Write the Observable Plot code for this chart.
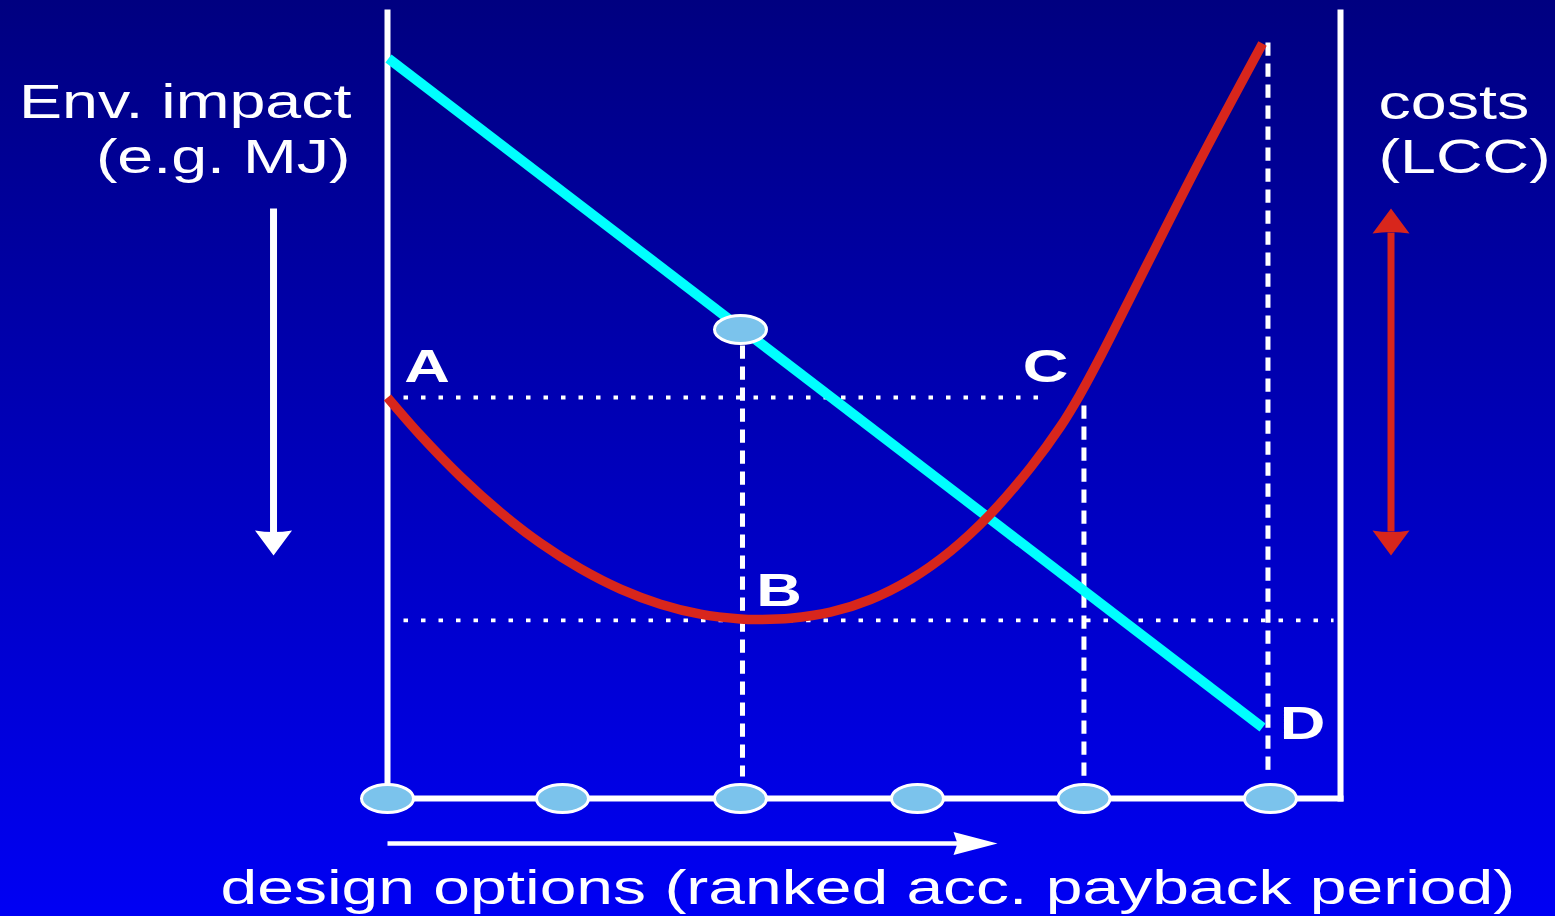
<!DOCTYPE html>
<html>
<head>
<meta charset="utf-8">
<script src="https://cdn.jsdelivr.net/npm/d3@7"></script>
<script src="https://cdn.jsdelivr.net/npm/@observablehq/plot@0.6"></script>
<style>
  html, body { margin: 0; padding: 0; background: #0000c0; overflow: hidden; }
  #chart svg { display: block; }
</style>
</head>
<body>
<div id="chart"></div>
<script>
// ---------------- data (x: design-option ranking 0–100, y: value 0–100) ----------------
// design options on the horizontal axis
const optionX = [0, 18.36, 37.04, 55.61, 73.08, 92.65];
const optionY = [0, 0, 0, 0, 0, 0];
// highlighted option on the environmental impact line
const markedX = [37.04];
const markedY = [59.67];

// environmental impact (straight line)
const envX = [0.10, 91.82];
const envY = [94.15, 9.03];

// life cycle costs (curve)
const lccX = [0, 3.46, 7.66, 11.86, 16.05, 20.25, 24.45, 28.65, 32.84, 37.04, 38.82, 42.29, 46.48, 50.68, 54.88, 59.08, 63.27, 67.47, 70.62, 72.61, 74.82, 79.01, 85.31, 91.82];
const lccY = [51.02, 46.21, 40.97, 36.40, 32.49, 29.24, 26.64, 24.72, 23.45, 22.84, 22.77, 22.93, 23.70, 25.32, 27.88, 31.48, 36.20, 42.10, 47.33, 51.27, 56.23, 66.28, 81.30, 96.06];

// dotted horizontal guides (level A/C and level B)
const dottedY = [51.02, 22.65];
const dottedX1 = [1.68, 1.68];
const dottedX2 = [69.57, 99.27];

// dashed vertical guides
const dashedX = [37.25, 73.08, 92.39];
const dashedY1 = [57.63, 50.0, 96.18];
const dashedY2 = [2.80, 2.80, 2.80];

// frame (left axis, right axis, bottom axis)
const frameX1 = [0, 100, 0];
const frameY1 = [100, 100, 0];
const frameX2 = [0, 100, 100];
const frameY2 = [0, 0, 0];

// point labels
const pointLabels = ["A", "B", "C", "D"];
const pointLabelX = [4.14, 41.08, 69.05, 96.01];
const pointLabelY = [52.93, 24.55, 52.93, 7.63];

// axis titles
const leftTitles = ["Env. impact", "(e.g. MJ)"];
const leftTitleX = [-3.78, -3.88];
const leftTitleY = [86.64, 79.52];
const rightTitles = ["costs", "(LCC)"];
const rightTitleX = [103.99, 103.99];
const rightTitleY = [86.51, 79.64];
const bottomTitle = ["design options (ranked acc. payback period)"];
const bottomTitleX = [-17.52];
const bottomTitleY = [-13.36];

// arrows: white down (impact), red double (costs), white right (options)
const impactArrowX = [-11.96, -11.96];
const impactArrowY = [75.06, 33.84];
const impactHeadX = [-11.96];
const impactHeadY = [30.92];
const costArrowX = [105.30, 105.30];
const costArrowY = [72.01, 33.97];
const costHeadX = [105.30, 105.30];
const costHeadY = [75.06, 30.92];
const optionArrowX = [0, 59.92];
const optionArrowY = [-5.73, -5.73];
const optionHeadX = [64.01];
const optionHeadY = [-5.73];

// ---------------- tables built from the arrays ----------------
const zip2 = (xs, ys) => xs.map((x, i) => ({x, y: ys[i]}));
const options = zip2(optionX, optionY);
const marked = zip2(markedX, markedY);
const env = zip2(envX, envY);
const lcc = zip2(lccX, lccY);
const dotted = dottedY.map((y, i) => ({x1: dottedX1[i], x2: dottedX2[i], y}));
const dashed = dashedX.map((x, i) => ({x, y1: dashedY1[i], y2: dashedY2[i]}));
const frame = frameX1.map((x1, i) => ({x1, y1: frameY1[i], x2: frameX2[i], y2: frameY2[i]}));
const labels = pointLabels.map((t, i) => ({t, x: pointLabelX[i], y: pointLabelY[i]}));
const leftT = leftTitles.map((t, i) => ({t, x: leftTitleX[i], y: leftTitleY[i]}));
const rightT = rightTitles.map((t, i) => ({t, x: rightTitleX[i], y: rightTitleY[i]}));
const bottomT = bottomTitle.map((t, i) => ({t, x: bottomTitleX[i], y: bottomTitleY[i]}));
const RED = "#d8261c";
const shafts = [
  {x1: impactArrowX[0], y1: impactArrowY[0], x2: impactArrowX[1], y2: impactArrowY[1], c: "white", w: 7},
  {x1: costArrowX[0], y1: costArrowY[0], x2: costArrowX[1], y2: costArrowY[1], c: RED, w: 7},
  {x1: optionArrowX[0], y1: optionArrowY[0], x2: optionArrowX[1], y2: optionArrowY[1], c: "white", w: 4.5}
];
const heads = [
  {x: impactHeadX[0], y: impactHeadY[0], r: 180, c: "white"},
  {x: costHeadX[0], y: costHeadY[0], r: 0, c: RED},
  {x: costHeadX[1], y: costHeadY[1], r: 180, c: RED}
];
const darts = [{x: optionHeadX[0], y: optionHeadY[0], r: 90}];

// ---------------- custom symbols ----------------
const K = 0.5523;
const ellipseSymbol = {
  draw(ctx) {
    const rx = 26, ry = 14;
    ctx.moveTo(rx, 0);
    ctx.bezierCurveTo(rx, ry * K, rx * K, ry, 0, ry);
    ctx.bezierCurveTo(-rx * K, ry, -rx, ry * K, -rx, 0);
    ctx.bezierCurveTo(-rx, -ry * K, -rx * K, -ry, 0, -ry);
    ctx.bezierCurveTo(rx * K, -ry, rx, -ry * K, rx, 0);
    ctx.closePath();
  }
};
const headSymbol = {
  draw(ctx) {
    ctx.moveTo(0, 0);
    ctx.lineTo(18.5, 25);
    ctx.quadraticCurveTo(0, 22, -18.5, 25);
    ctx.closePath();
  }
};
const dartSymbol = {
  draw(ctx) {
    ctx.moveTo(0, 0);
    ctx.lineTo(11.5, 44);
    ctx.lineTo(0, 40);
    ctx.lineTo(-11.5, 44);
    ctx.closePath();
  }
};

const FONT = "'Liberation Sans', Arial, Helvetica, sans-serif";

const chart = Plot.plot({
  width: 1555,
  height: 916,
  marginLeft: 387,
  marginRight: 215,
  marginTop: 12,
  marginBottom: 118,
  x: {domain: [0, 100], axis: null},
  y: {domain: [0, 100], axis: null},
  marks: [
    Plot.link(dotted, {x1: "x1", x2: "x2", y1: "y", y2: "y", stroke: "white", strokeWidth: 3.8, strokeDasharray: "4.5,13"}),
    Plot.link(dashed, {x1: "x", x2: "x", y1: "y1", y2: "y2", stroke: "white", strokeWidth: 5, strokeDasharray: "13.3,7.7"}),
    Plot.link(frame, {x1: "x1", y1: "y1", x2: "x2", y2: "y2", stroke: "white", strokeWidth: 6, strokeLinecap: "square"}),
    Plot.line(env, {x: "x", y: "y", stroke: "#00ffff", strokeWidth: 10, strokeLinecap: "butt"}),
    Plot.line(lcc, {x: "x", y: "y", stroke: RED, strokeWidth: 9.5, curve: "catmull-rom", strokeLinecap: "butt"}),
    Plot.dot(options, {x: "x", y: "y", symbol: ellipseSymbol, fill: "#7bc3ec", stroke: "white", strokeWidth: 3}),
    Plot.dot(marked, {x: "x", y: "y", symbol: ellipseSymbol, fill: "#7bc3ec", stroke: "white", strokeWidth: 3}),
    Plot.link(shafts, {x1: "x1", y1: "y1", x2: "x2", y2: "y2", stroke: "c", strokeWidth: (d) => d.w, strokeLinecap: "butt"}),
    Plot.dot(heads, {x: "x", y: "y", rotate: "r", symbol: headSymbol, fill: "c", stroke: "none"}),
    Plot.dot(darts, {x: "x", y: "y", rotate: "r", symbol: dartSymbol, fill: "white", stroke: "none"}),
    Plot.text(labels, {x: "x", y: "y", text: "t", textAnchor: "middle", lineAnchor: "bottom", fontSize: 47, fontWeight: "bold", fill: "white", fontFamily: FONT}),
    Plot.text(leftT, {x: "x", y: "y", text: "t", textAnchor: "end", lineAnchor: "bottom", fontSize: 48, fill: "white", fontFamily: FONT}),
    Plot.text(rightT, {x: "x", y: "y", text: "t", textAnchor: "start", lineAnchor: "bottom", fontSize: 48, fill: "white", fontFamily: FONT}),
    Plot.text(bottomT, {x: "x", y: "y", text: "t", textAnchor: "start", lineAnchor: "bottom", fontSize: 48, fill: "white", fontFamily: FONT})
  ]
});

// the slide is horizontally stretched: widen the glyphs around their anchors
d3.select(chart).selectAll("text").attr("transform", function () {
  const sx = this.textContent === bottomTitle[0] ? 1.375 : 1.345;
  return (this.getAttribute("transform") || "") + ` scale(${sx},1)`;
});
chart.style.background = "linear-gradient(to bottom, #000080 0%, #0000f4 100%)";
chart.style.overflow = "visible";
chart.style.maxWidth = "none";
document.getElementById("chart").appendChild(chart);
</script>
</body>
</html>
